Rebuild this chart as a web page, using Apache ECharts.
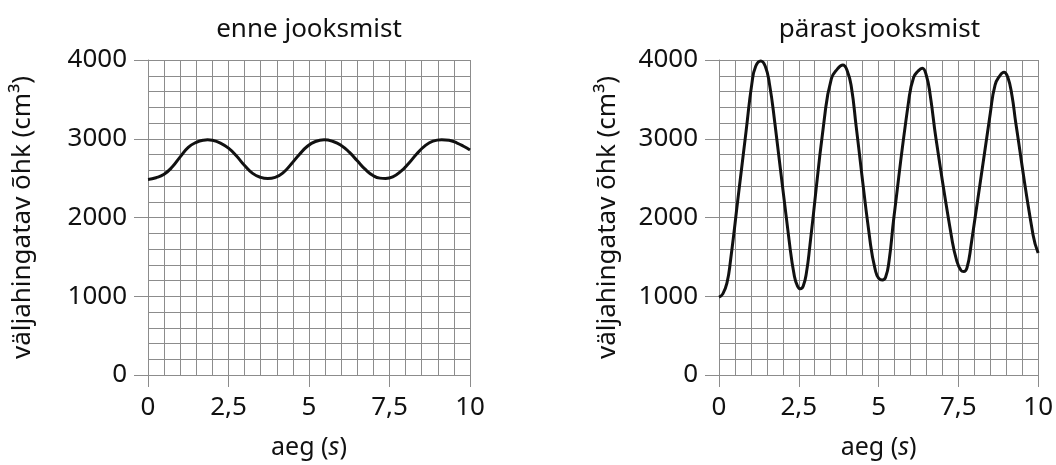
<!DOCTYPE html>
<html>
<head>
<meta charset="utf-8">
<script src="https://cdn.jsdelivr.net/npm/echarts@6/dist/echarts.min.js"></script>
<style>
  html, body { margin: 0; padding: 0; background: #fff; }
  #chart { width: 1056px; height: 465px; }
</style>
</head>
<body>
<div id="chart"></div>
<script>
    var titles = ['enne jooksmist', 'pärast jooksmist'];
    var xTickLabels = ['0', '2,5', '5', '7,5', '10'];
    var yTickLabels = ['0', '1000', '2000', '3000', '4000'];

    // enne jooksmist: aeg (s) ja maht (cm3), loetud pildilt
    var beforeTime = [0, 0.25, 0.5, 0.75, 1.0, 1.25, 1.5, 1.72, 1.85, 2.0, 2.25, 2.5, 2.75, 3.0, 3.25, 3.5, 3.72,
        3.95, 4.2, 4.45, 4.7, 4.95, 5.2, 5.47, 5.75, 6.0, 6.25, 6.5, 6.75, 7.0, 7.2, 7.38,
        7.6, 7.85, 8.1, 8.35, 8.6, 8.85, 9.12, 9.35, 9.6, 9.8, 10];
    var beforeVolume = [2484, 2505, 2550, 2640, 2770, 2890, 2955, 2982, 2986, 2980, 2945, 2880, 2780, 2660, 2560, 2510, 2496,
        2510, 2570, 2680, 2800, 2905, 2965, 2986, 2965, 2915, 2830, 2720, 2610, 2530, 2500, 2496,
        2515, 2585, 2690, 2810, 2910, 2970, 2988, 2980, 2945, 2905, 2857];

    // pärast jooksmist
    var afterTime = [0, 0.12, 0.25, 0.36, 0.6, 0.85, 1.03, 1.15, 1.31, 1.45, 1.58, 1.75, 2.2, 2.36, 2.46, 2.55,
        2.64, 2.74, 2.85, 3.3, 3.52, 3.72, 3.88, 4.02, 4.15, 4.3, 4.75, 4.9, 5.0, 5.12,
        5.22, 5.33, 5.48, 5.95, 6.1, 6.24, 6.37, 6.5, 6.62, 6.8, 7.3, 7.45, 7.58, 7.67,
        7.77, 7.9, 8.5, 8.65, 8.8, 8.93, 9.05, 9.18, 9.3, 9.84, 10];
    var afterVolume = [990, 1030, 1170, 1450, 2260, 3100, 3700, 3920, 3988, 3920, 3700, 3200, 1700, 1260, 1130, 1095,
        1130, 1300, 1650, 3250, 3760, 3890, 3935, 3860, 3650, 3150, 1650, 1330, 1230, 1205,
        1240, 1450, 2000, 3500, 3780, 3860, 3896, 3800, 3550, 3000, 1720, 1450, 1330, 1313,
        1360, 1650, 3320, 3680, 3800, 3846, 3780, 3550, 3200, 1780, 1550];

    function pairs(xs, ys) {
        var out = [];
        for (var i = 0; i < xs.length; i++) {
            out.push([xs[i], ys[i]]);
        }
        return out;
    }

    var font = 'Noto Sans';
    var gridColor = '#8c8c8c';
    var grids = [
        {left: 148, top: 60, width: 322, height: 321},
        {left: 719, top: 60, width: 321, height: 321}
    ];
    var yNameGap = [112, 98];

    var xAxes = [], yAxes = [], chartTitles = [];
    for (var g = 0; g < 2; g++) {
        xAxes.push({
            type: 'value', gridIndex: g, min: 0, max: 10, interval: 2.5,
            name: 'aeg ({it|s})', nameLocation: 'middle', nameGap: 60,
            nameTextStyle: {
                fontFamily: font, fontSize: 25, color: '#111',
                rich: {it: {fontFamily: font, fontSize: 25, fontStyle: 'italic', color: '#111'}}
            },
            axisLine: {show: true, lineStyle: {color: gridColor, width: 1}},
            axisTick: {show: true, length: 12, lineStyle: {color: gridColor}},
            axisLabel: {
                margin: 20, fontFamily: font, fontSize: 26, color: '#111',
                formatter: function (v) { return xTickLabels[Math.round(v / 2.5)]; }
            },
            splitLine: {show: true, lineStyle: {color: gridColor, width: 1}},
            minorTick: {show: false, splitNumber: 5},
            minorSplitLine: {show: true, lineStyle: {color: gridColor, width: 1}}
        });
        yAxes.push({
            type: 'value', gridIndex: g, min: 0, max: 4000, interval: 1000,
            name: 'väljahingatav õhk (cm³)', nameLocation: 'middle', nameGap: yNameGap[g],
            nameTextStyle: {fontFamily: font, fontSize: 26, color: '#111'},
            axisLine: {show: true, lineStyle: {color: gridColor, width: 1}},
            axisTick: {show: true, length: 14, lineStyle: {color: gridColor}},
            axisLabel: {
                margin: 21, fontFamily: font, fontSize: 26, color: '#111',
                formatter: function (v) { return yTickLabels[Math.round(v / 1000)]; }
            },
            splitLine: {show: true, lineStyle: {color: gridColor, width: 1}},
            minorTick: {show: false, splitNumber: 5},
            minorSplitLine: {show: true, lineStyle: {color: gridColor, width: 1}}
        });
        chartTitles.push({
            text: titles[g],
            left: grids[g].left + grids[g].width / 2 - 5, top: 12, textAlign: 'center',
            textStyle: {fontFamily: font, fontSize: 26, fontWeight: 'normal', color: '#111'}
        });
    }

    var myChart = echarts.init(document.getElementById('chart'), null, {renderer: 'canvas'});
    myChart.setOption({
        animation: false,
        backgroundColor: '#fff',
        title: chartTitles,
        grid: grids,
        xAxis: xAxes,
        yAxis: yAxes,
        series: [
            {
                type: 'line', xAxisIndex: 0, yAxisIndex: 0, smooth: 0.5, showSymbol: false,
                lineStyle: {color: '#111', width: 3}, data: pairs(beforeTime, beforeVolume)
            },
            {
                type: 'line', xAxisIndex: 1, yAxisIndex: 1, smooth: 0.5, showSymbol: false,
                lineStyle: {color: '#111', width: 3}, data: pairs(afterTime, afterVolume)
            }
        ]
    });
</script>
</body>
</html>
